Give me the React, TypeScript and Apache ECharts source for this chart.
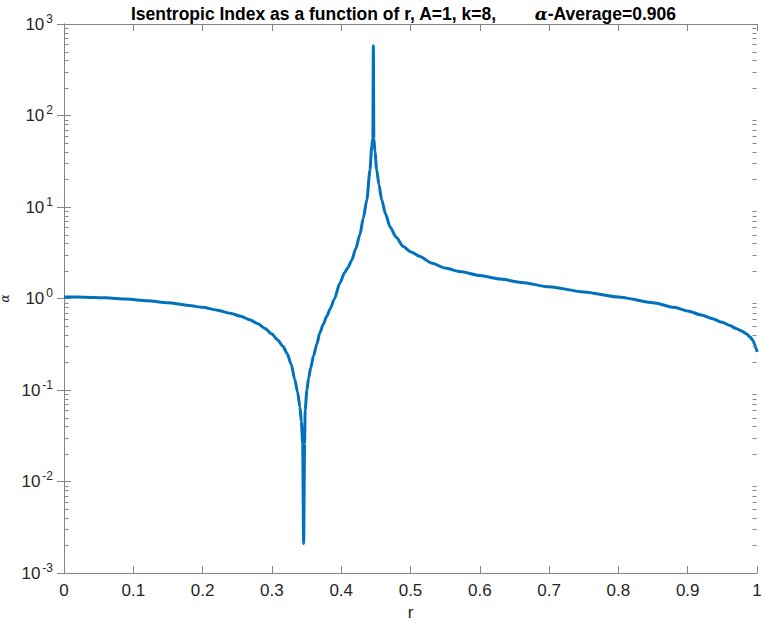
import React, { useEffect, useRef } from "react";
import * as echarts from "echarts";

const rValues = [
  0, 0.03, 0.06, 0.09, 0.12, 0.15, 0.18, 0.2, 0.22, 0.24, 0.255, 0.268, 0.28, 0.29, 0.3, 0.308,
  0.316, 0.322, 0.328, 0.333, 0.337, 0.3405, 0.3425, 0.3444, 0.3458, 0.3472, 0.348, 0.3505, 0.353,
  0.356, 0.36, 0.365, 0.369, 0.374, 0.379, 0.384, 0.39, 0.398, 0.405, 0.41, 0.415, 0.421, 0.427,
  0.432, 0.437, 0.4416, 0.444, 0.4457, 0.4464, 0.4471, 0.4487, 0.4512, 0.4545, 0.4584, 0.464,
  0.4704, 0.479, 0.4896, 0.5, 0.5137, 0.53, 0.55, 0.5714, 0.6, 0.629, 0.66, 0.7, 0.75, 0.8, 0.85,
  0.88, 0.9, 0.92, 0.936, 0.95, 0.96, 0.97, 0.978, 0.985, 0.99, 0.994, 0.997, 0.999, 1.0,
];
const alphaValues = [
  1.04, 1.035, 1.02, 0.985, 0.945, 0.9, 0.84, 0.8, 0.75, 0.69, 0.64, 0.585, 0.53, 0.47, 0.41, 0.355,
  0.3, 0.25, 0.19, 0.13, 0.095, 0.065, 0.045, 0.026, 0.0021, 0.026, 0.06, 0.1, 0.135,
  0.175, 0.235, 0.32, 0.42, 0.52, 0.635, 0.77, 0.98, 1.47, 1.92, 2.2, 2.6, 3.5, 5.0,
  7.6, 12, 25.6, 46, 56, 580, 56, 40, 25.6, 17.5, 12, 8.4,
  6.1, 4.7, 3.7, 3.25, 2.88, 2.45, 2.15, 1.97, 1.78, 1.63, 1.5, 1.34, 1.18, 1.04, 0.9,
  0.8, 0.73, 0.66, 0.6, 0.55, 0.51, 0.47, 0.44, 0.41, 0.38, 0.35, 0.31, 0.28, 0.26,
];
const xTicks = [0, 0.1, 0.2, 0.3, 0.4, 0.5, 0.6, 0.7, 0.8, 0.9, 1];
const decadeExponents = [-3, -2, -1, 0, 1, 2];
const minorMultipliers = [2, 3, 4, 5, 6, 7, 8, 9];
const titleMain = "Isentropic Index as a function of r, A=1, k=8,";
const titleAlpha = "α";
const titleTail = "-Average=0.906";

const FONT = "'Liberation Sans Narrow', 'Liberation Sans', Arial, sans-serif";
const AXIS_COLOR = "#858585";
const TEXT_COLOR = "#262626";

export default function App() {
  const ref = useRef<HTMLDivElement>(null);
  useEffect(() => {
    if (!ref.current) return;
    const chart = echarts.init(ref.current, null, { renderer: "svg" });
    const lineData = rValues.map((r, i) => [r, alphaValues[i]]);
    const minorData: number[][] = [];
    decadeExponents.forEach((e) =>
      minorMultipliers.forEach((m) => minorData.push([0.5, m * Math.pow(10, e)]))
    );
    const yLabelRich = {
      b: { fontSize: 17, fontFamily: FONT, color: TEXT_COLOR },
      s: { fontSize: 12, fontFamily: FONT, color: TEXT_COLOR, padding: [0, 0, 11, 2] },
    };
    chart.setOption({
      animation: false,
      backgroundColor: "#ffffff",
      title: {
        left: 126,
        top: 0,
        text:
          "{b|" + titleMain + "}{sp|}{a|" + titleAlpha + "}{b|" + titleTail + "}",
        textStyle: {
          rich: {
            b: { fontSize: 17.5, fontWeight: "bold", fontFamily: FONT, color: "#000" },
            a: { fontSize: 17, fontStyle: "italic", fontFamily: "'DejaVu Serif', serif", color: "#000" },
            sp: { width: 38 },
          },
        },
      },
      grid: { left: 64, right: 6, top: 24, bottom: 50, containLabel: false, outerBoundsMode: "none" },
      xAxis: [
        {
          type: "value",
          min: 0,
          max: 1,
          interval: 0.1,
          name: "r",
          nameLocation: "middle",
          nameGap: 31,
          nameTextStyle: { fontSize: 17, lineHeight: 17, fontFamily: FONT, color: TEXT_COLOR },
          axisLine: { show: true, lineStyle: { color: AXIS_COLOR, width: 1 } },
          axisTick: { show: true, inside: true, length: 7, lineStyle: { color: AXIS_COLOR } },
          axisLabel: {
            fontSize: 17,
            fontFamily: FONT,
            color: TEXT_COLOR,
            margin: 9,
            formatter: (v: number) => {
              const t = xTicks.find((x) => Math.abs(x - v) < 1e-9);
              return t === undefined ? "" : String(t);
            },
          },
          splitLine: { show: false },
        },
        {
          type: "value",
          position: "top",
          min: 0,
          max: 1,
          interval: 0.1,
          axisLine: { show: true, lineStyle: { color: AXIS_COLOR, width: 1 } },
          axisTick: { show: true, inside: true, length: 7, lineStyle: { color: AXIS_COLOR } },
          axisLabel: { show: false },
          splitLine: { show: false },
        },
      ],
      yAxis: [
        {
          type: "log",
          logBase: 10,
          min: 0.001,
          max: 1000,
          splitNumber: 6,
          name: "α",
          nameLocation: "middle",
          nameRotate: 90,
          nameGap: 49,
          nameTextStyle: { fontSize: 12, lineHeight: 12, fontFamily: "'DejaVu Serif', serif", fontStyle: "italic", color: TEXT_COLOR },
          axisLine: { show: true, lineStyle: { color: AXIS_COLOR, width: 1 } },
          axisTick: { show: true, inside: true, length: 7, lineStyle: { color: AXIS_COLOR } },
          axisLabel: {
            margin: 11,
            rich: yLabelRich,
            formatter: (v: number) => "{b|10}{s|" + Math.round(Math.log10(v)) + "}",
          },
          splitLine: { show: false },
        },
        {
          type: "log",
          logBase: 10,
          position: "right",
          min: 0.001,
          max: 1000,
          splitNumber: 6,
          axisLine: { show: true, lineStyle: { color: AXIS_COLOR, width: 1 } },
          axisTick: { show: true, inside: true, length: 7, lineStyle: { color: AXIS_COLOR } },
          axisLabel: { show: false },
          splitLine: { show: false },
        },
      ],
      series: [
        {
          type: "custom",
          xAxisIndex: 0,
          yAxisIndex: 0,
          silent: true,
          clip: false,
          z: 5,
          data: minorData,
          renderItem: (params: any, api: any) => {
            const v = api.value(1);
            const p = api.coord([api.value(0), v]);
            const cs = params.coordSys;
            const xl = cs.x;
            const xr = cs.x + cs.width;
            const y = Math.round(p[1]) + 0.5;
            return {
              type: "group",
              children: [
                { type: "line", shape: { x1: xl + 0.5, y1: y, x2: xl + 4.5, y2: y }, style: { stroke: AXIS_COLOR, lineWidth: 1 } },
                { type: "line", shape: { x1: xr - 4.5, y1: y, x2: xr - 0.5, y2: y }, style: { stroke: AXIS_COLOR, lineWidth: 1 } },
              ],
            };
          },
        },
        {
          type: "line",
          xAxisIndex: 0,
          yAxisIndex: 0,
          data: lineData,
          showSymbol: false,
          symbol: "none",
          smooth: 0.25,
          smoothMonotone: "x",
          z: 3,
          lineStyle: { color: "#0072BD", width: 3, join: "round" },
        },
      ],
    });
    return () => chart.dispose();
  }, []);
  return (
    <div
      ref={ref}
      style={{ position: "fixed", left: 0, top: 0, width: 763, height: 623, background: "#fff" }}
    />
  );
}
